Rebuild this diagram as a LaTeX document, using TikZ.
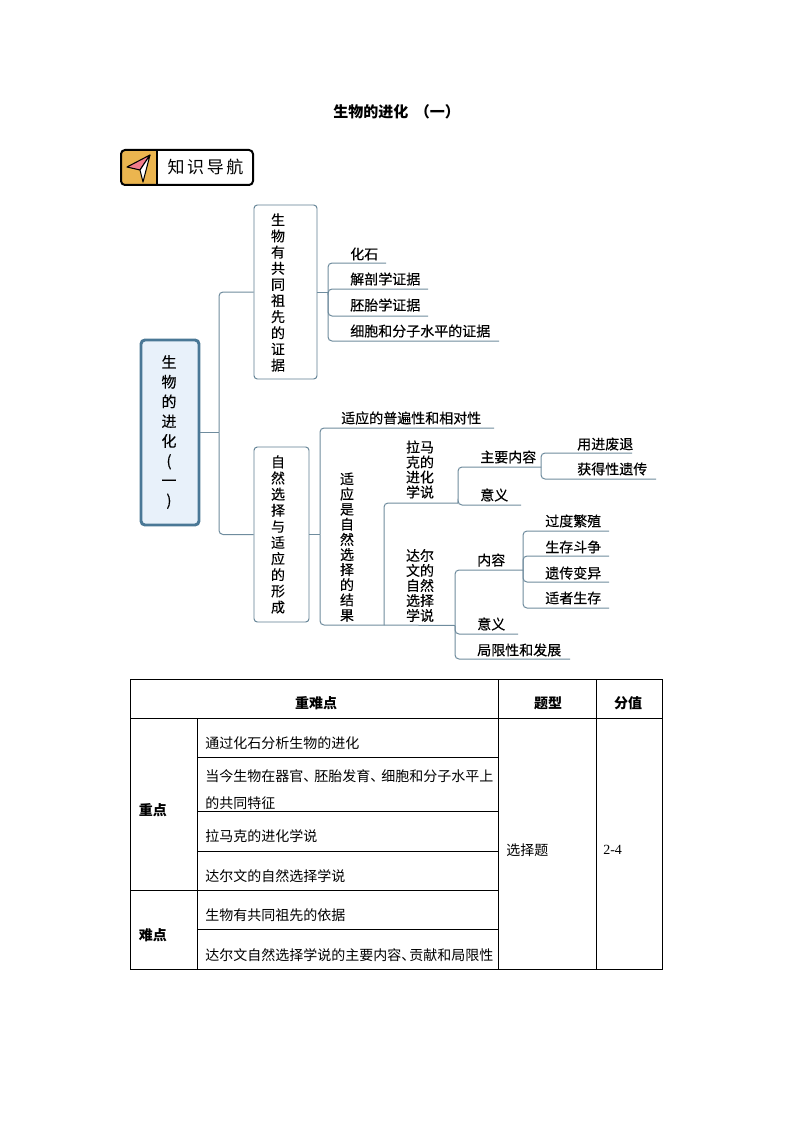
\documentclass[tikz,border=0pt]{standalone}
\usepackage{fontspec}
\setmainfont{Noto Sans CJK SC}
\newfontfamily\latinserif{Liberation Serif}
\newfontfamily\mapfont[FakeBold=0.25]{Noto Sans CJK SC}
\definecolor{connline}{HTML}{6F8C9E}
\definecolor{rootfill}{HTML}{E8F1FA}
\definecolor{rootline}{HTML}{4A7896}
\definecolor{boxline}{HTML}{5F7F92}
\definecolor{iconfill}{HTML}{EBB54F}
\definecolor{iconpink}{HTML}{F27C8B}
\tikzset{
  conn/.style={draw=connline,line width=0.75pt,rounded corners=3pt},
  leaf/.style={anchor=west,inner sep=0pt,font=\fontsize{10.5}{12}\selectfont\mapfont},
  stack/.style={inner sep=0pt,align=center,font=\fontsize{10.5}{#1}\selectfont\mapfont},
  stackbox/.style={draw=boxline,line width=0.7pt,rounded corners=2.5pt,inner sep=0pt},
  cell/.style={anchor=west,inner sep=0pt,font=\fontsize{10.5}{19.9}\selectfont},
  headcell/.style={inner sep=0pt,font=\fontsize{10.5}{12}\selectfont\bfseries},
  grid/.style={draw=black,line width=0.75pt}
}
\begin{document}
\begin{tikzpicture}[x=0.75pt,y=-0.75pt]
  \useasboundingbox (0,0) rectangle (794,1123);
  \fill[white] (0,0) rectangle (794,1123);

  \node[anchor=west,inner sep=0pt,font=\fontsize{11.25}{13}\selectfont\bfseries] (title) at (333,112) {生物的进化\hspace{5pt}（一）};

  \fill[iconfill,rounded corners=3pt] (157,150) -- (121,150) -- (121,185) -- (157,185) -- cycle;
  \node[draw=black,line width=1.5pt,rounded corners=3pt,minimum width=99pt,minimum height=26.25pt,inner sep=0pt] (banner) at (187,167.5) {};
  \draw[line width=1pt] (157,150) -- (157,185);
  \node[inner sep=0pt,font=\fontsize{12.75}{14}\selectfont] (bannertext) at (205.5,167.5) {知\hspace{2pt}识\hspace{2pt}导\hspace{2pt}航};
  \draw[fill=iconpink,line width=0.8pt,line join=round] (150,155) -- (127,167) -- (140,170) -- cycle;
  \draw[fill=white,line width=0.8pt,line join=round] (150,155) -- (140,170) -- (143,182) -- cycle;

  \node[draw=rootline,fill=rootfill,line width=2.2pt,rounded corners=3pt,inner sep=0pt,minimum width=43.5pt,minimum height=138.75pt] (root) at (170,432.5) {};
  \node[stack=15,font=\fontsize{11.25}{14.8}\selectfont\mapfont] (roottext) at (169,432) {生\\物\\的\\进\\化\\(\\一\\)};

  \node[stackbox,minimum width=47.25pt,minimum height=130.5pt] (common) at (285.5,292) {};
  \node[stack=12.1] (commontext) at (278,292.5) {生\\物\\有\\共\\同\\祖\\先\\的\\证\\据};
  \node[stackbox,minimum width=41.25pt,minimum height=131.25pt] (select) at (281.5,534.5) {};
  \node[stack=12.1] (selecttext) at (278,534.5) {自\\然\\选\\择\\与\\适\\应\\的\\形\\成};

  \coordinate (trunk) at (219,432.5);
  \draw[conn] (root.east) -- (trunk);
  \draw[conn] (trunk) |- (common.west);
  \draw[conn] (trunk) |- (select.west);

  \coordinate (commonspine) at (328,292);
  \node[leaf] (fossil) at (350,254) {化石};
  \node[leaf] (anatomy) at (350,279) {解剖学证据};
  \node[leaf] (embryo) at (350,305) {胚胎学证据};
  \node[leaf] (cell) at (350,331) {细胞和分子水平的证据};
  \coordinate (fossilend) at (386,263);
  \coordinate (anatomyend) at (428,289);
  \coordinate (embryoend) at (428,316);
  \coordinate (cellend) at (499,341);
  \draw[conn] (common.east) -- (commonspine);
  \draw[conn] (commonspine) |- (fossilend);
  \draw[conn] (commonspine) |- (anatomyend);
  \draw[conn] (commonspine) |- (embryoend);
  \draw[conn] (commonspine) |- (cellend);

  \coordinate (selectspine) at (320,534.5);
  \node[leaf] (universal) at (341,418) {适应的普遍性和相对性};
  \node[stack=11.35] (result) at (347,547) {适\\应\\是\\自\\然\\选\\择\\的\\结\\果};
  \coordinate (universalend) at (494,428);
  \coordinate (resultend) at (384,625);
  \draw[conn] (select.east) -- (selectspine);
  \draw[conn] (selectspine) |- (universalend);
  \draw[conn] (selectspine) |- (resultend);

  \node[stack=11.25] (lamarck) at (420,469.5) {拉马\\克的\\进化\\学说};
  \node[stack=11.25] (darwin) at (420,585.5) {达尔\\文的\\自然\\选择\\学说};
  \coordinate (lamarcksplit) at (458,503);
  \coordinate (darwinsplit) at (455,625.5);
  \draw[conn] (resultend) |- (lamarcksplit);
  \draw[conn] (resultend) -- (darwinsplit);

  \node[leaf] (lamarckmain) at (480,457) {主要内容};
  \node[leaf] (lamarckmean) at (480,495) {意义};
  \coordinate (lamarckfork) at (541,467);
  \coordinate (lamarckmeanend) at (521,505);
  \draw[conn] (lamarcksplit) |- (lamarckfork);
  \draw[conn] (lamarcksplit) |- (lamarckmeanend);

  \node[leaf] (useloss) at (577,444) {用进废退};
  \node[leaf] (acquired) at (577,469) {获得性遗传};
  \coordinate (uselossend) at (632,453);
  \coordinate (acquiredend) at (656,479);
  \draw[conn] (lamarckfork) |- (uselossend);
  \draw[conn] (lamarckfork) |- (acquiredend);

  \node[leaf] (darwinmain) at (477,560) {内容};
  \node[leaf] (darwinmean) at (477,624) {意义};
  \node[leaf] (limit) at (477,650) {局限性和发展};
  \coordinate (darwinfork) at (523,570);
  \coordinate (darwinmeanend) at (518,634);
  \coordinate (limitend) at (570,659);
  \draw[conn] (darwinsplit) |- (darwinfork);
  \draw[conn] (darwinsplit) |- (darwinmeanend);
  \draw[conn] (darwinsplit) |- (limitend);

  \node[leaf] (overbreed) at (545,521) {过度繁殖};
  \node[leaf] (struggle) at (545,547) {生存斗争};
  \node[leaf] (variation) at (545,573) {遗传变异};
  \node[leaf] (survival) at (545,598) {适者生存};
  \coordinate (overbreedend) at (609,531);
  \coordinate (struggleend) at (609,556);
  \coordinate (variationend) at (609,582);
  \coordinate (survivalend) at (609,608);
  \draw[conn] (darwinfork) |- (overbreedend);
  \draw[conn] (darwinfork) |- (struggleend);
  \draw[conn] (darwinfork) |- (variationend);
  \draw[conn] (darwinfork) |- (survivalend);

  \begin{scope}[shift={(-0.2,-0.2)}]
    \draw[grid] (131,680) rectangle (663,970);
    \draw[grid] (131,719) -- (663,719);
    \draw[grid] (198,758) -- (499,758);
    \draw[grid] (198,812) -- (499,812);
    \draw[grid] (198,852) -- (499,852);
    \draw[grid] (131,891) -- (499,891);
    \draw[grid] (198,930) -- (499,930);
    \draw[grid] (198,719) -- (198,970);
    \draw[grid] (499,680) -- (499,970);
    \draw[grid] (597,680) -- (597,970);
  \end{scope}

  \node[headcell] (headkey) at (316,703) {重难点};
  \node[headcell] (headtype) at (548,703) {题型};
  \node[headcell] (headscore) at (628,703) {分值};
  \node[headcell,anchor=west] (keyrow) at (138.5,810) {重点};
  \node[headcell,anchor=west] (hardrow) at (138.5,935) {难点};
  \node[cell] (rowa) at (205,743) {通过化石分析生物的进化};
  \node[cell,align=left] (rowb) at (205,789.5) {当今生物在器官、\hspace{-2.25pt}胚胎发育、\hspace{-2.25pt}细胞和分子水平上\\的共同特征};
  \node[cell] (rowc) at (205,836) {拉马克的进化学说};
  \node[cell] (rowd) at (205,876) {达尔文的自然选择学说};
  \node[cell] (rowe) at (205,915) {生物有共同祖先的依据};
  \node[cell] (rowf) at (205,955) {达尔文自然选择学说的主要内容、\hspace{-4.5pt}贡献和局限性};
  \node[cell] (typecell) at (506,850) {选择题};
  \node[cell,font=\fontsize{10.5}{12}\latinserif] (scorecell) at (603,850) {2-4};
\end{tikzpicture}
\end{document}
